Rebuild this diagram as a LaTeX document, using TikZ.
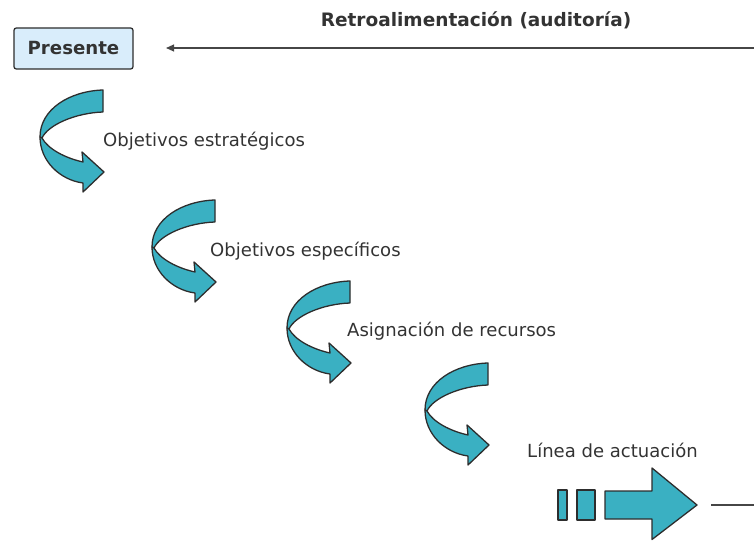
\documentclass[tikz,border=0pt]{standalone}
\usepackage{fontspec}
\setmainfont{DejaVu Sans}
\usetikzlibrary{arrows.meta}
\definecolor{tealfill}{RGB}{58,176,194}
\definecolor{edgecol}{RGB}{45,45,45}
\definecolor{txtcol}{RGB}{51,51,51}
\definecolor{boxfill}{RGB}{217,237,251}
\definecolor{linecol}{RGB}{70,70,70}
\tikzset{
  band/.style={fill=tealfill,draw=edgecol,line width=1.1pt,line join=round},
  lbl/.style={anchor=west,inner sep=0pt,text=txtcol,font=\fontsize{15.4}{18}\selectfont},
  boldlbl/.style={inner sep=0pt,text=txtcol,font=\fontsize{15.8}{18}\selectfont\bfseries},
  presbox/.style={draw=edgecol,fill=boxfill,line width=1.1pt,rounded corners=2pt,minimum width=119*0.03cm,minimum height=41*0.03cm,inner sep=0pt,text=txtcol,font=\fontsize{15.5}{18}\selectfont\bfseries},
  feedline/.style={draw=linecol,line width=1.3pt},
  twist/.pic={
    \path[band] (0,0) .. controls (0,-28) and (30,-46) .. (63,-47) -- (63,-25)
      .. controls (35,-24) and (8,-12) .. (2,1) -- cycle;
    \path[band] (0,0) .. controls (0,24) and (20,43) .. (43,46) -- (43,55) -- (64,35)
      -- (42,15) -- (43,25) .. controls (25,21) and (8,12) .. (2,1) -- cycle;
  }
}
\begin{document}
\begin{tikzpicture}[x=0.03cm,y=-0.03cm]
\useasboundingbox (0,0) rectangle (754,541);
% top
\node[presbox] (pres) at (73.5,48.5) {Presente};
\node[boldlbl] (retro) at (476,20) {Retroalimentación (auditoría)};
\coordinate (fbR) at (754,48);
\coordinate (fbL) at (166,48);
\draw[feedline,-{Triangle[length=7pt,width=6pt]}] (fbR) -- (fbL);
% twisted arrows
\pic at (40,137) {twist};
\pic at (152,247) {twist};
\pic at (287,328) {twist};
\pic at (425,410) {twist};
% labels
\node[lbl] (l1) at (103,141) {Objetivos estratégicos};
\node[lbl] (l2) at (210,251) {Objetivos específicos};
\node[lbl] (l3) at (347,331) {Asignación de recursos};
\node[lbl] (l4) at (527,450) {Línea de actuación};
% bottom arrow
\path[band] (558,490) rectangle (567,520);
\path[band] (577,490) rectangle (595,520);
\path[band] (605,491) -- (652,491) -- (652,468) -- (697,505) -- (652,539.5) -- (652,519) -- (605,519) -- cycle;
\coordinate (outL) at (711,505);
\coordinate (outR) at (754,505);
\draw[feedline] (outL) -- (outR);
\end{tikzpicture}
\end{document}
